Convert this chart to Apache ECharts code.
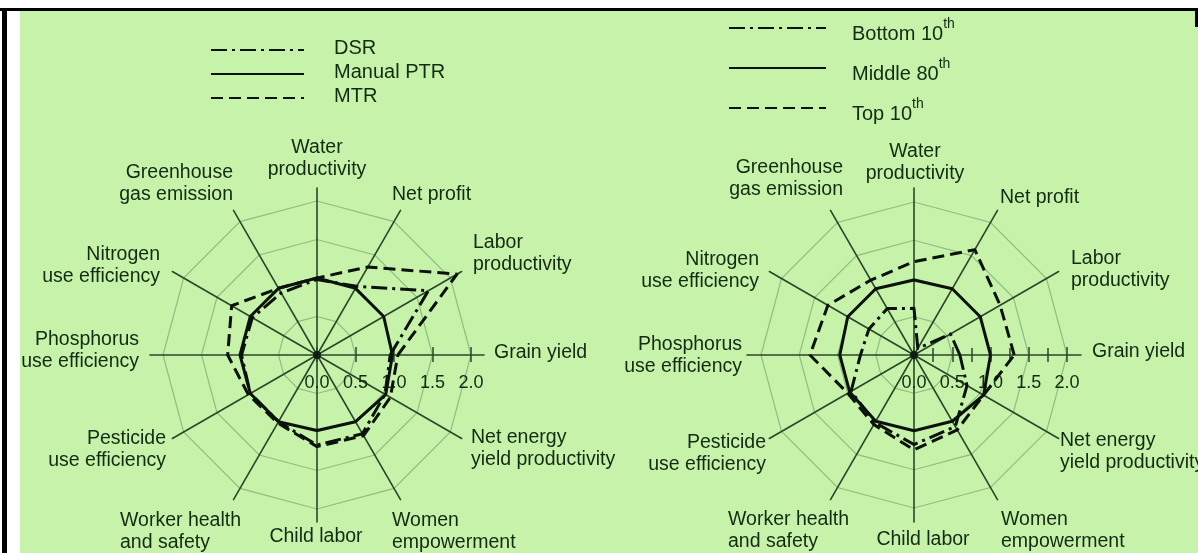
<!DOCTYPE html>
<html><head><meta charset="utf-8">
<script src="https://cdn.jsdelivr.net/npm/echarts@6/dist/echarts.min.js"></script>
<style>
html,body{margin:0;padding:0;background:#fff;width:1198px;height:553px;overflow:hidden;}
#bg{position:absolute;left:20px;top:10px;right:0;bottom:0;background:#c6f3a9;}
#frameTop{position:absolute;left:0;top:8px;width:1198px;height:2.5px;background:#000;}
#frameLeft{position:absolute;left:2px;top:8px;width:5px;height:545px;background:#000;}
#frameRight{position:absolute;left:1195px;top:8px;width:3px;height:19px;background:#000;}
#chart{position:absolute;left:0;top:0;width:1198px;height:553px;}
</style></head><body>
<div id="bg"></div><div id="frameTop"></div><div id="frameLeft"></div><div id="frameRight"></div>
<div id="chart"></div>
<script>
// ---------- data ----------
const categories = ['Grain yield','Labor productivity','Net profit','Water productivity','Greenhouse gas emission','Nitrogen use efficiency','Phosphorus use efficiency','Pesticide use efficiency','Worker health and safety','Child labor','Women empowerment','Net energy yield productivity'];
const categoryLines = ['Grain yield','Labor\nproductivity','Net profit','Water\nproductivity','Greenhouse\ngas emission','Nitrogen\nuse efficiency','Phosphorus\nuse efficiency','Pesticide\nuse efficiency','Worker health\nand safety','Child labor','Women\nempowerment','Net energy\nyield productivity'];

const leftSeriesNames = ['DSR','Manual PTR','MTR'];
const dsrValues       = [0.95, 1.67, 1.03, 0.98, 0.93, 0.97, 0.98, 1.00, 1.00, 1.17, 1.18, 1.02];
const manualPtrValues = [0.98, 1.00, 1.00, 1.00, 1.00, 1.00, 1.00, 1.00, 1.00, 0.98, 1.00, 1.03];
const mtrValues       = [1.05, 2.10, 1.32, 1.00, 1.00, 1.28, 1.16, 1.03, 1.02, 1.19, 1.21, 1.10];

const rightSeriesNames = ['Bottom 10th','Middle 80th','Top 10th'];
const bottom10Values = [0.60, 0.55, 0.10, 0.61, 0.70, 0.68, 0.70, 0.95, 1.02, 1.17, 1.08, 0.80];
const middle80Values = [1.00, 1.00, 1.00, 0.98, 1.00, 1.00, 0.97, 0.97, 1.00, 0.99, 1.00, 1.05];
const top10Values    = [1.31, 1.30, 1.59, 1.22, 1.13, 1.30, 1.36, 1.00, 1.05, 1.24, 1.13, 1.05];

const tickLabels = ['0.0','0.5','1.0','1.5','2.0'];
const centerPoint = [[0, 0]];

// ---------- layout / style ----------
const TEXT = '#132a13', SPOKE = '#2a472a', RING = '#8fbd80', INK = '#0b120b';
const FONT = 'Liberation Sans, Arial, sans-serif';
const FS = 19.5, LH = 22;
const DASH = [12, 6], DASHDOT = [16, 5, 3, 5];

const charts = [
  {cx:317, cy:355, ringR:154, spokeR:167, minor:false,
   labelPos:[['l',177,-2],['l',156,-101],['l',75,-160],['c',0,-196],['r',-84,-171],['r',-157,-89],
             ['r',-178,-4],['r',-151,95],['l',-197,177],['c',-1,182],['l',75,177],['l',154,94]]},
  {cx:914, cy:355, ringR:153, spokeR:167, minor:true,
   labelPos:[['l',178,-3],['l',157,-85],['l',86,-157],['c',1,-192],['r',-71,-176],['r',-155,-84],
             ['r',-172,1],['r',-148,99],['l',-186,176],['c',9,185],['l',87,176],['l',146,97]]}
];

const ctx = document.createElement('canvas').getContext('2d');
ctx.font = FS + 'px ' + FONT;
const textW = s => ctx.measureText(s).width;

function buildNames(k) {
  const c = charts[k];
  const rich = {}, texts = {};
  categories.forEach((cat, i) => {
    const [mode, ox, oy] = c.labelPos[i];
    const lines = categoryLines[i].split('\n');
    const n = lines.length;
    const w = Math.max(...lines.map(textW));
    const th = i * 30 * Math.PI / 180;
    const ax = c.cx + c.spokeR * Math.cos(th), ay = c.cy - c.spokeR * Math.sin(th);
    const tx = c.cx + ox, ty = c.cy + oy;
    const bcx = mode === 'l' ? tx + w / 2 : mode === 'r' ? tx - w / 2 : tx;
    const dx = bcx - ax, dy = ty - ay;
    const pl = dx > 0 ? 2 * dx : 0, pr = dx < 0 ? -2 * dx : 0;
    const pt = dy > 0 ? 2 * dy : 0, pb = dy < 0 ? -2 * dy : 0;
    const align = mode === 'l' ? 'left' : mode === 'r' ? 'right' : 'center';
    texts[cat] = lines.map((ln, j) => {
      const key = 'k' + k + 'i' + i + 'l' + j;
      const t = j === 0 ? pt : 0, b = j === n - 1 ? pb : 0;
      rich[key] = {fontSize: FS, fontFamily: FONT, color: TEXT, align: align,
                   padding: [t, pr, b, pl], lineHeight: LH + t + b};
      return '{' + key + '|' + ln + '}';
    }).join('\n');
  });
  return {rich, texts};
}

const radars = [], grids = [], xAxes = [], yAxes = [], series = [];
charts.forEach((c, k) => {
  const indicator = categories.map(n => ({name: n, min: 0, max: 2}));
  radars.push({
    center: [c.cx, c.cy], radius: c.ringR, startAngle: 0, splitNumber: 4, shape: 'polygon',
    indicator: indicator, axisName: {show: false}, axisLine: {show: false},
    axisTick: {show: false}, axisLabel: {show: false},
    splitLine: {show: true, lineStyle: {color: RING, width: 1.2}}, splitArea: {show: false}
  });
  const nm = buildNames(k);
  radars.push({
    center: [c.cx, c.cy], radius: c.spokeR, startAngle: 0, splitNumber: 4, shape: 'polygon',
    indicator: indicator, nameGap: 0,
    axisName: {show: true, align: 'center', verticalAlign: 'middle', fontSize: FS, fontFamily: FONT,
               color: TEXT, rich: nm.rich, formatter: name => nm.texts[name]},
    axisLine: {show: true, lineStyle: {color: SPOKE, width: 1.6}},
    axisTick: {show: false}, axisLabel: {show: false},
    splitLine: {show: false}, splitArea: {show: false}
  });
  grids.push({left: c.cx, top: c.cy, width: c.ringR, height: 0, outerBoundsMode: 'none'});
  const tickStyle = {color: SPOKE, width: 1.5};
  const base = {gridIndex: k, type: 'value', min: 0, max: 2, interval: 0.5,
                axisLine: {show: false}, splitLine: {show: false},
                minorTick: {show: c.minor, splitNumber: 2, length: 7, lineStyle: tickStyle}};
  xAxes.push(Object.assign({}, base, {position: 'bottom',
    axisTick: {show: true, length: 7, lineStyle: tickStyle},
    axisLabel: {show: true, margin: 19, fontSize: 18, fontFamily: FONT, color: TEXT,
                formatter: v => tickLabels[Math.round(v / 0.5)]}}));
  xAxes.push(Object.assign({}, base, {position: 'top',
    axisTick: {show: true, length: 8, lineStyle: tickStyle}, axisLabel: {show: false}}));
  yAxes.push({gridIndex: k, type: 'value', min: -1, max: 1, show: false});
});

const styleFor = t => t === 'dashdot' ? DASHDOT : t === 'dash' ? DASH : 'solid';
const lineTypes = ['dashdot', 'solid', 'dash'];
const leftVals = [dsrValues, manualPtrValues, mtrValues];
const rightVals = [bottom10Values, middle80Values, top10Values];

series.push({type: 'radar', radarIndex: 0, symbol: 'none', silent: true, z: 3,
  data: leftSeriesNames.map((n, i) => ({name: n, value: leftVals[i],
    lineStyle: {color: INK, width: 3, type: styleFor(lineTypes[i])}}))});
series.push({type: 'radar', radarIndex: 2, symbol: 'none', silent: true, z: 3,
  data: rightSeriesNames.map((n, i) => ({name: n, value: rightVals[i],
    lineStyle: {color: INK, width: 3, type: styleFor(lineTypes[i])}}))});

// legend carriers
leftSeriesNames.concat(rightSeriesNames).forEach((n, i) => {
  series.push({type: 'line', name: n, xAxisIndex: 0, yAxisIndex: 0, data: [], symbol: 'none',
    itemStyle: {color: INK}, lineStyle: {color: INK, width: 4, type: styleFor(lineTypes[i % 3])}});
});
charts.forEach((c, k) => {
  series.push({type: 'scatter', xAxisIndex: 2 * k, yAxisIndex: k, data: centerPoint,
    symbolSize: 8, itemStyle: {color: INK}, silent: true, z: 5});
});

const option = {
  backgroundColor: 'transparent', animation: false,
  radar: radars, grid: grids, xAxis: xAxes, yAxis: yAxes, series: series,
  legend: [
    {orient: 'vertical', left: 205, top: 33, itemWidth: 93, itemHeight: 14, itemGap: 0,
     selectedMode: false, data: leftSeriesNames,
     itemStyle: {color: 'rgba(0,0,0,0)', borderWidth: 0},
     formatter: n => '{m|' + n + '}',
     textStyle: {rich: {m: {fontSize: 20, fontFamily: FONT, color: TEXT, lineHeight: 24.5, padding: [0, 0, 4, 25]}}}},
    {orient: 'vertical', left: 723, top: 12.5, itemWidth: 97, itemHeight: 14, itemGap: 13,
     selectedMode: false, data: rightSeriesNames,
     itemStyle: {color: 'rgba(0,0,0,0)', borderWidth: 0},
     formatter: n => { const m = n.match(/^(.*?)(th)$/); return '{m|' + m[1] + '}{s|' + m[2] + '}'; },
     textStyle: {rich: {m: {fontSize: 20, fontFamily: FONT, color: TEXT, padding: [13, 0, 0, 21]},
                        s: {fontSize: 14, fontFamily: FONT, color: TEXT, padding: [0, 0, 7, 0]}}}}
  ]
};
const chart = echarts.init(document.getElementById('chart'), null, {renderer: 'canvas'});
chart.setOption(option);
</script>
</body></html>
